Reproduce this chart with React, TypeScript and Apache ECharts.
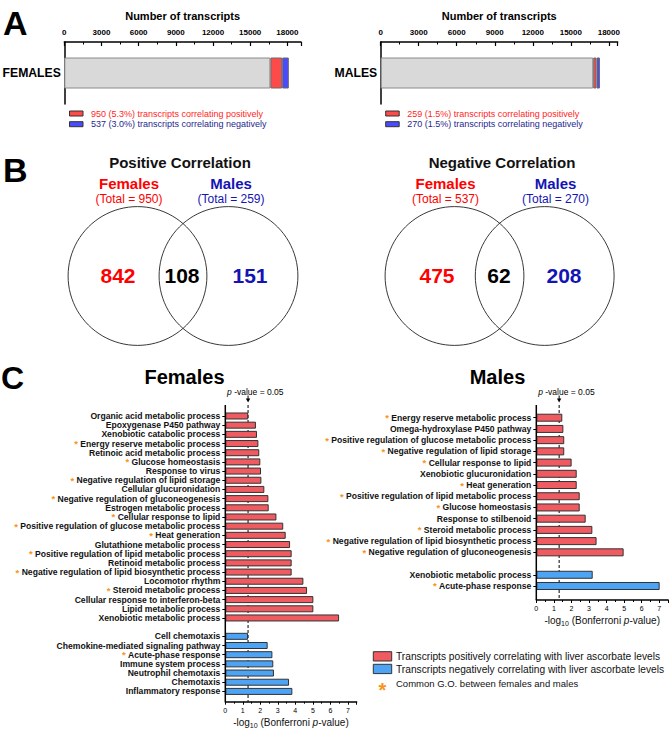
import React, { useEffect, useRef } from "react";
import * as echarts from "echarts";

const FONT = '"Liberation Sans", Arial, Helvetica, sans-serif';

// ---------- Panel A data ----------
const A_FEMALE_CAT = ["FEMALES"];
const A_MALE_CAT = ["MALES"];
// [not correlating, positively correlating, negatively correlating]
const A_FEMALE = [16630, 950, 537];
const A_MALE = [16770, 259, 270];
const A_FEMALE_PCT = ["5.3", "3.0"];
const A_MALE_PCT = ["1.5", "1.5"];
const A_AXIS_TITLE = "Number of transcripts";

// ---------- Panel B data ----------
const VENN_TITLES = ["Positive Correlation", "Negative Correlation"];
const VENN_POS_TOTALS = [950, 259];
const VENN_POS_COUNTS = [842, 108, 151];
const VENN_NEG_TOTALS = [537, 270];
const VENN_NEG_COUNTS = [475, 62, 208];

// ---------- Panel C data ----------
const P05 = 1.3; // -log10(0.05)
const F_POS_TERMS = [
  "Organic acid metabolic process",
  "Epoxygenase P450 pathway",
  "Xenobiotic catabolic process",
  "Energy reserve metabolic process",
  "Retinoic acid metabolic process",
  "Glucose homeostasis",
  "Response to virus",
  "Negative regulation of lipid storage",
  "Cellular glucuronidation",
  "Negative regulation of gluconeogenesis",
  "Estrogen metabolic process",
  "Cellular response to lipid",
  "Positive regulation of glucose metabolic process",
  "Heat generation",
  "Glutathione metabolic process",
  "Positive regulation of lipid metabolic process",
  "Retinoid metabolic process",
  "Negative regulation of lipid biosynthetic process",
  "Locomotor rhythm",
  "Steroid metabolic process",
  "Cellular response to interferon-beta",
  "Lipid metabolic process",
  "Xenobiotic metabolic process",
];
const F_POS_VALUES = [
  1.31, 1.75, 1.81, 1.89, 1.94, 2.0, 2.04, 2.06, 2.23, 2.46, 2.48, 2.92, 3.31,
  3.45, 3.7, 3.79, 3.79, 3.79, 4.46, 4.67, 5.03, 5.03, 6.5,
];
const F_NEG_TERMS = [
  "Cell chemotaxis",
  "Chemokine-mediated signaling pathway",
  "Acute-phase response",
  "Immune system process",
  "Neutrophil chemotaxis",
  "Chemotaxis",
  "Inflammatory response",
];
const F_NEG_VALUES = [1.3, 2.42, 2.69, 2.74, 2.78, 3.64, 3.83];

const M_POS_TERMS = [
  "Energy reserve metabolic process",
  "Omega-hydroxylase P450 pathway",
  "Positive regulation of glucose metabolic process",
  "Negative regulation of lipid storage",
  "Cellular response to lipid",
  "Xenobiotic glucuronidation",
  "Heat generation",
  "Positive regulation of lipid metabolic process",
  "Glucose homeostasis",
  "Response to stilbenoid",
  "Steroid metabolic process",
  "Negative regulation of lipid biosynthetic process",
  "Negative regulation of gluconeogenesis",
];
const M_POS_VALUES = [
  1.48, 1.54, 1.59, 1.59, 2.01, 2.3, 2.3, 2.47, 2.47, 2.81, 3.19, 3.43, 4.97,
];
const M_NEG_TERMS = ["Xenobiotic metabolic process", "Acute-phase response"];
const M_NEG_VALUES = [3.21, 7.02];

const LEGEND_C = [
  "Transcripts positively correlating with liver ascorbate levels",
  "Transcripts negatively correlating with liver ascorbate levels",
  "Common G.O. between females and males",
];

// ---------- styles ----------
const RED_C = "#EF5B61";
const BLUE_C = "#4DA3F4";
const STAR_C = "#F7931E";
const RED_T = "#FF1E1E";
const NAVY_T = "#1F1F8F";
const BLUE_T = "#1414B4";

const COMMON = new Set<string>([
  ...F_POS_TERMS.filter((t) => M_POS_TERMS.includes(t)),
  ...F_NEG_TERMS.filter((t) => M_NEG_TERMS.includes(t)),
]);

function buildOption() {
  const fCats = [...F_POS_TERMS, "", ...F_NEG_TERMS];
  const mCats = [...M_POS_TERMS, "", ...M_NEG_TERMS];
  const fRed = [...F_POS_VALUES, "-", ...F_NEG_TERMS.map(() => "-")];
  const fBlue = [...F_POS_TERMS.map(() => "-"), "-", ...F_NEG_VALUES];
  const mRed = [...M_POS_VALUES, "-", ...M_NEG_TERMS.map(() => "-")];
  const mBlue = [...M_POS_TERMS.map(() => "-"), "-", ...M_NEG_VALUES];

  const axisBlack = { show: true, lineStyle: { color: "#000", width: 1.5 } };

  const aX = (gridIndex: number, max: number) => ({
    gridIndex,
    type: "value",
    position: "top",
    min: 0,
    max,
    interval: 3000,
    axisLine: axisBlack,
    axisTick: { show: true, inside: true, length: 4, lineStyle: { color: "#000", width: 1.2 } },
    minorTick: { show: true, splitNumber: 2, length: 2.5, lineStyle: { color: "#000", width: 1 } },
    axisLabel: {
      fontSize: 8,
      fontWeight: "bold",
      color: "#000",
      margin: 6,
      fontFamily: FONT,
      formatter: (v: number) => (v % 3000 === 0 ? String(v) : ""),
    },
    splitLine: { show: false },
    name: A_AXIS_TITLE,
    nameLocation: "middle",
    nameGap: 21,
    nameTextStyle: { fontSize: 11, fontWeight: "bold", color: "#000", fontFamily: FONT },
  });
  const aY = (gridIndex: number, data: string[]) => ({
    gridIndex,
    type: "category",
    data,
    axisLine: axisBlack,
    axisTick: { show: false },
    axisLabel: { fontSize: 12.2, fontWeight: "bold", color: "#000", margin: 3.5, fontFamily: FONT },
  });

  const cX = (gridIndex: number, offset: number) => ({
    gridIndex,
    type: "value",
    position: "bottom",
    offset,
    min: 0,
    max: 7.5,
    interval: 1,
    axisLine: axisBlack,
    axisTick: { show: true, length: 3, lineStyle: { color: "#000", width: 1 } },
    minorTick: { show: true, splitNumber: 2, length: 2, lineStyle: { color: "#000", width: 1 } },
    axisLabel: {
      fontSize: 7,
      color: "#000",
      margin: 5,
      fontFamily: FONT,
      formatter: (v: number) => (Number.isInteger(v) ? String(v) : ""),
    },
    splitLine: { show: false },
    name: "-log{sub|10} (Bonferroni {it|p}-value)",
    nameLocation: "middle",
    nameGap: 14,
    nameTextStyle: {
      fontSize: 10,
      color: "#111",
      fontFamily: FONT,
      rich: {
        sub: { fontSize: 7, color: "#111", fontFamily: FONT, padding: [6, 0, 0, 0] },
        it: { fontSize: 10, color: "#111", fontStyle: "italic", fontFamily: FONT },
      },
    },
  });
  const cY = (gridIndex: number, data: string[]) => ({
    gridIndex,
    type: "category",
    inverse: true,
    data,
    axisLine: { show: false },
    axisTick: {
      show: true,
      alignWithLabel: true,
      length: 3,
      interval: (_i: number, v: string) => v !== "",
      lineStyle: { color: "#000", width: 1 },
    },
    axisLabel: {
      interval: 0,
      margin: 5,
      fontSize: 8.6,
      lineHeight: 8.6,
      fontWeight: "bold",
      color: "#111",
      fontFamily: FONT,
      formatter: (v: string) => (COMMON.has(v) ? `{s|*} ${v}` : v),
      rich: {
        s: { color: STAR_C, fontSize: 9.5, lineHeight: 8.6, fontWeight: "bold", fontFamily: FONT },
      },
    },
  });

  const aBar = (xi: number, stack: string, val: number, color: string, border: string) => ({
    type: "bar",
    xAxisIndex: xi,
    yAxisIndex: xi,
    stack,
    barWidth: 31,
    data: [val],
    itemStyle: { color, borderColor: border, borderWidth: 1 },
  });
  const cBar = (xi: number, stack: string, data: any[], color: string, bw: number) => ({
    type: "bar",
    xAxisIndex: xi,
    yAxisIndex: xi,
    stack,
    barWidth: bw,
    data,
    z: 3,
    itemStyle: { color, borderColor: "#333", borderWidth: 1 },
  });

  return {
    animation: false,
    backgroundColor: "#fff",
    textStyle: { fontFamily: FONT },
    grid: [
      { left: 64.3, top: 42, width: 236.7, height: 62, outerBoundsMode: "none" },
      { left: 380.7, top: 42, width: 237, height: 62, outerBoundsMode: "none" },
      { left: 225.3, top: 411.4, width: 131.3, height: 284.6, outerBoundsMode: "none" },
      { left: 536.3, top: 412.1, width: 131.8, height: 179.5, outerBoundsMode: "none" },
    ],
    xAxis: [aX(0, 19100), aX(1, 18700), cX(2, 5.7), cX(3, 8.4)],
    yAxis: [aY(0, A_FEMALE_CAT), aY(1, A_MALE_CAT), cY(2, fCats), cY(3, mCats)],
    series: [
      aBar(0, "fa", A_FEMALE[0], "#D9D9D9", "#8A8A8A"),
      aBar(0, "fa", A_FEMALE[1], "#FF4A4A", "#6A6A6A"),
      aBar(0, "fa", A_FEMALE[2], "#4A4AFF", "#6A6A6A"),
      aBar(1, "ma", A_MALE[0], "#D9D9D9", "#8A8A8A"),
      aBar(1, "ma", A_MALE[1], "#FF4A4A", "#6A6A6A"),
      aBar(1, "ma", A_MALE[2], "#4A4AFF", "#6A6A6A"),
      cBar(2, "fc", fRed, RED_C, 7),
      cBar(2, "fc", fBlue, BLUE_C, 7),
      cBar(3, "mc", mRed, RED_C, 8),
      cBar(3, "mc", mBlue, BLUE_C, 8),
    ],
  };
}

function txt(x: number, y: number, text: string, s: any, align = "center") {
  return {
    type: "text",
    x,
    y,
    silent: true,
    z: 50,
    style: {
      text,
      fontFamily: FONT,
      textAlign: align,
      align,
      textVerticalAlign: "middle",
      verticalAlign: "middle",
      ...s,
    },
  };
}
function rect(x: number, y: number, w: number, h: number, fill: string) {
  return {
    type: "rect",
    silent: true,
    z: 50,
    shape: { x, y, width: w, height: h },
    style: { fill, stroke: "#333", lineWidth: 1 },
  };
}
function circle(cx: number, cy: number, r: number) {
  return {
    type: "circle",
    silent: true,
    z: 50,
    shape: { cx, cy, r },
    style: { fill: "none", stroke: "#222", lineWidth: 0.9 },
  };
}
function line(x1: number, y1: number, x2: number, y2: number, w: number, dash?: number[]) {
  return {
    type: "line",
    silent: true,
    z: dash ? 0 : 50,
    shape: { x1, y1, x2, y2 },
    style: { stroke: "#000", lineWidth: w, lineDash: dash },
  };
}

function buildGraphic(chart: echarts.ECharts) {
  const g: any[] = [];
  const letter = { fontSize: 34, fontWeight: "bold", fill: "#000" };
  g.push(txt(3, 22.5, "A", letter, "left"));
  g.push(txt(3, 170, "B", letter, "left"));
  g.push(txt(1, 378, "C", { ...letter, fontSize: 32 }, "left"));

  // Panel A legends
  const legA = (x: number, vals: number[], pct: string[]) => {
    g.push(rect(x, 111, 13.5, 5, "#FF4A4A"));
    g.push(rect(x, 121.7, 13.5, 5, "#4A4AFF"));
    g.push(
      txt(x + 21.5, 113.7, `${vals[1]} (${pct[0]}%) transcripts correlating positively`, { fontSize: 9, fill: RED_T }, "left")
    );
    g.push(
      txt(x + 21.5, 124.4, `${vals[2]} (${pct[1]}%) transcripts correlating negatively`, { fontSize: 9, fill: NAVY_T }, "left")
    );
  };
  legA(69.5, A_FEMALE, A_FEMALE_PCT);
  legA(385.7, A_MALE, A_MALE_PCT);

  // Panel B Venn diagrams
  const venn = (title: string, cx: number, fx: number, mx: number, c1: number, c2: number, totals: number[], counts: number[], nx: number[]) => {
    g.push(txt(cx, 162, title, { fontSize: 15, fontWeight: "bold", fill: "#111" }));
    g.push(txt(fx, 183, "Females", { fontSize: 15, fontWeight: "bold", fill: "#FF0000" }));
    g.push(txt(fx, 198.5, `(Total = ${totals[0]})`, { fontSize: 12, fill: "#FF0000" }));
    g.push(txt(mx, 183, "Males", { fontSize: 15, fontWeight: "bold", fill: BLUE_T }));
    g.push(txt(mx, 198.5, `(Total = ${totals[1]})`, { fontSize: 12, fill: BLUE_T }));
    g.push(circle(c1, 276, 69.4));
    g.push(circle(c2, 276, 69.4));
    g.push(txt(nx[0], 275.5, String(counts[0]), { fontSize: 21, fontWeight: "bold", fill: "#FF0000" }));
    g.push(txt(nx[1], 275.5, String(counts[1]), { fontSize: 21, fontWeight: "bold", fill: "#000" }));
    g.push(txt(nx[2], 275.5, String(counts[2]), { fontSize: 21, fontWeight: "bold", fill: BLUE_T }));
  };
  venn(VENN_TITLES[0], 180, 129, 231, 137.5, 228.5, VENN_POS_TOTALS, VENN_POS_COUNTS, [118, 182, 250]);
  venn(VENN_TITLES[1], 502, 445.5, 555.5, 454.5, 544.7, VENN_NEG_TOTALS, VENN_NEG_COUNTS, [437, 499, 564]);

  // Panel C titles, axis lines, p-value markers
  g.push(txt(184.5, 377, "Females", { fontSize: 20, fontWeight: "bold", fill: "#000" }));
  g.push(txt(497.5, 377, "Males", { fontSize: 20, fontWeight: "bold", fill: "#000" }));
  const pMark = (xi: number, bottom: number) => {
    const x0 = chart.convertToPixel({ xAxisIndex: xi } as any, 0) as unknown as number;
    const xp = chart.convertToPixel({ xAxisIndex: xi } as any, P05) as unknown as number;
    g.push(line(x0, 405, x0, bottom, 1.5));
    g.push(line(xp, 405, xp, bottom, 1, [3, 2]));
    g.push(line(xp, 395.5, xp, 399.5, 1));
    g.push({
      type: "polygon",
      silent: true,
      z: 50,
      shape: { points: [[xp - 2.2, 398.5], [xp + 2.2, 398.5], [xp, 402.5]] },
      style: { fill: "#000" },
    });
    g.push(
      txt(xp - 21, 391.5, "{i|p} -value = 0.05", {
        fontSize: 8.5,
        fill: "#000",
        rich: { i: { fontStyle: "italic", fontSize: 8.5, fontFamily: FONT, fill: "#000" } },
      }, "left")
    );
  };
  pMark(2, 701.7);
  pMark(3, 600);

  // Panel C legend
  g.push(rect(373.3, 651.7, 18.4, 9.3, RED_C));
  g.push(rect(373.3, 664.3, 18.4, 9.3, BLUE_C));
  g.push(txt(396, 656.4, LEGEND_C[0], { fontSize: 10.2, fill: "#111" }, "left"));
  g.push(txt(396, 669, LEGEND_C[1], { fontSize: 10.2, fill: "#111" }, "left"));
  g.push(txt(382.5, 689.5, "*", { fontSize: 20, fontWeight: "bold", fill: STAR_C }));
  g.push(txt(396, 683.3, LEGEND_C[2], { fontSize: 9.5, fill: "#111" }, "left"));
  return g;
}

export default function App() {
  const ref = useRef<HTMLDivElement>(null);
  useEffect(() => {
    document.body.style.margin = "0";
    const chart = echarts.init(ref.current!, null, { renderer: "svg" });
    chart.setOption(buildOption() as any);
    chart.setOption({ graphic: buildGraphic(chart) } as any);
    return () => chart.dispose();
  }, []);
  return <div ref={ref} style={{ width: 669, height: 729 }} />;
}
